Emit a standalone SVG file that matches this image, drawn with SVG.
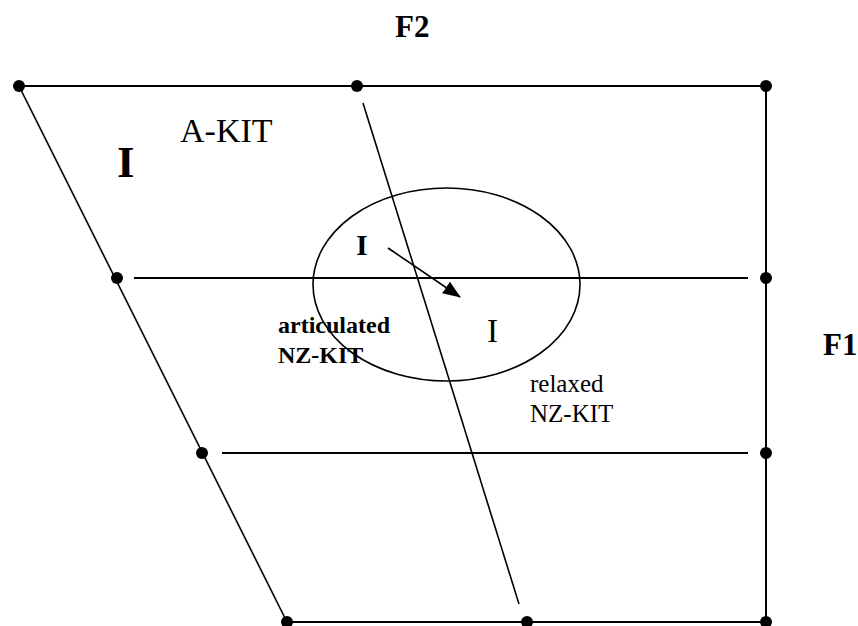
<svg xmlns="http://www.w3.org/2000/svg" width="858" height="626" viewBox="0 0 858 626">
<style>
.ln{stroke:#000;stroke-width:2;fill:none}
.sl{stroke:#000;stroke-width:1.6;fill:none}
.dot{fill:#000}
.t{font-family:"Liberation Serif","Times New Roman",serif;fill:#000}
.b{font-weight:bold}
</style>
<defs>
<marker id="ah" markerUnits="userSpaceOnUse" markerWidth="18" markerHeight="14" refX="17" refY="7" orient="auto">
<path d="M0,0 L18,7 L0,14 Z" fill="#000"/>
</marker>
</defs>
<rect width="858" height="626" fill="#fff"/>
<g id="connectors">
<line class="ln" x1="19" y1="86" x2="766" y2="86"/>
<line class="ln" x1="766" y1="86" x2="766" y2="622"/>
<line class="ln" x1="287" y1="622" x2="766" y2="622"/>
<line class="ln" x1="134" y1="278" x2="748" y2="278"/>
<line class="ln" x1="222" y1="453" x2="748" y2="453"/>
<line class="sl" x1="19" y1="86" x2="287" y2="622"/>
<line class="sl" x1="363" y1="103" x2="519" y2="604"/>
<ellipse class="sl" cx="446.5" cy="284.5" rx="133.5" ry="96.5"/>
<line class="sl" x1="388" y1="248" x2="460" y2="297" marker-end="url(#ah)"/>
</g>
<g id="nodes">
<g id="n-tl"><circle class="dot" cx="19" cy="86" r="6"/></g>
<g id="n-tm"><circle class="dot" cx="357" cy="86" r="6"/></g>
<g id="n-tr"><circle class="dot" cx="766" cy="86" r="6"/></g>
<g id="n-l1"><circle class="dot" cx="117" cy="278" r="6"/></g>
<g id="n-r1"><circle class="dot" cx="766" cy="278" r="6"/></g>
<g id="n-l2"><circle class="dot" cx="202" cy="453" r="6"/></g>
<g id="n-r2"><circle class="dot" cx="766" cy="453" r="6"/></g>
<g id="n-bl"><circle class="dot" cx="287" cy="622" r="6"/></g>
<g id="n-bm"><circle class="dot" cx="527" cy="622" r="6"/></g>
<g id="n-br"><circle class="dot" cx="766" cy="622" r="6"/></g>
</g>
<g id="labels">
<text class="t b" x="395" y="37" font-size="31">F2</text>
<text class="t b" x="823" y="355" font-size="31">F1</text>
<text class="t" x="180" y="142" font-size="34">A-KIT</text>
<text class="t b" x="117" y="177" font-size="45">I</text>
<text class="t b" x="356" y="255" font-size="30">I</text>
<text class="t" x="487" y="342" font-size="33">I</text>
<text class="t b" x="278" y="333" font-size="24">articulated</text>
<text class="t b" x="278" y="363" font-size="24">NZ-KIT</text>
<text class="t" x="530" y="392" font-size="25">relaxed</text>
<text class="t" x="530" y="422" font-size="25">NZ-KIT</text>
</g>
</svg>
